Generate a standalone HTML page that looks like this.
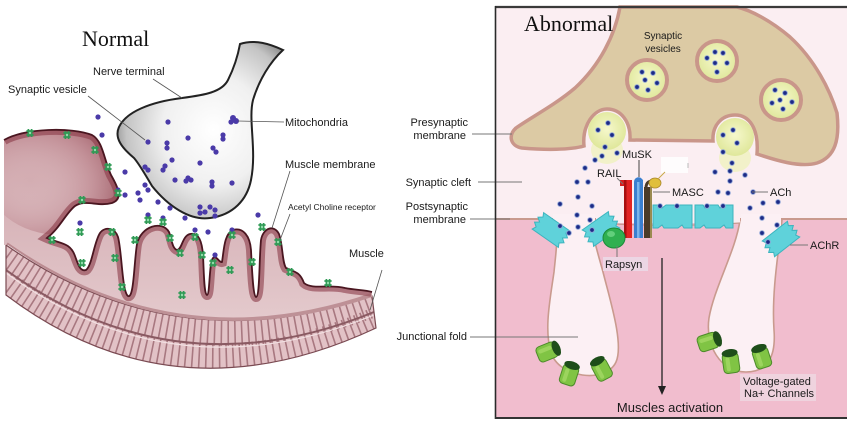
<!DOCTYPE html>
<html><head><meta charset="utf-8"><style>
html,body{margin:0;padding:0;background:#fff;}
svg{display:block;}
text{font-family:"Liberation Sans",Arial,sans-serif;fill:#1a1a1a;}
</style></head><body>
<svg width="850" height="425" viewBox="0 0 850 425" xmlns="http://www.w3.org/2000/svg">
<defs>
<radialGradient id="nt" cx="0.58" cy="0.5" r="0.62">
<stop offset="0" stop-color="#ffffff"/><stop offset="0.5" stop-color="#f0f0f0"/><stop offset="0.85" stop-color="#c4c4c4"/><stop offset="1" stop-color="#8a8a8a"/>
</radialGradient>
<linearGradient id="ts" x1="0" y1="0" x2="0" y2="1">
<stop offset="0" stop-color="#cda2a8"/><stop offset="1" stop-color="#e4cacd"/>
</linearGradient>
<radialGradient id="lump" cx="0.3" cy="0.55" r="0.75">
<stop offset="0" stop-color="#ead6d8" stop-opacity="0"/><stop offset="0.55" stop-color="#b0707a" stop-opacity="0.4"/><stop offset="1" stop-color="#7a2a36" stop-opacity="0.9"/>
</radialGradient>
<radialGradient id="ves" cx="0.5" cy="0.45" r="0.55">
<stop offset="0" stop-color="#f6f8cc"/><stop offset="1" stop-color="#dfe79a"/>
</radialGradient>
<clipPath id="tc"><path d="M4,140 C25,128 72,127 92,135 C103,141 104,160 111,175 C119,189 123,199 112,203 C98,207 85,199 75,206 C66,213 60,228 47,238 C60,244 70,242 75,256 C78,264 80,272 86,270 C92,266 94,242 100,233 C105,226 115,228 118,237 C122,252 122,292 128,296 C134,299 134,262 137,244 C141,226 162,220 169,232 C172,240 172,248 177,250 C182,250 182,236 190,234 C199,232 202,242 203,255 C204,275 204,294 207,295 C210,295 209,262 213,258 C217,255 219,263 222,262 C224,250 224,234 233,230 C243,227 250,236 251,250 C252,270 253,296 256,297 C260,297 259,260 261,240 C263,228 274,224 279,234 C283,245 282,262 286,268 C295,272 300,272 304,283 C312,290 330,284 345,288 C355,290 365,290 372,292 L372,297 Q176,363.5 8,245 L4,245 Z"/></clipPath>
<clipPath id="bc"><path d="M6,245 Q176,363.5 372,296 L376,328 Q174.5,422.5 6,295 Z"/></clipPath>
<g id="r"><path d="M-3.6,-2 h7.2 M-3.6,2 h7.2 M-1.6,-4 v8 M1.6,-4 v8" stroke="#2f9a55" stroke-width="1.7" fill="none"/><circle r="1.2" fill="#8fdca8"/></g>
<g id="ach"><path d="M-16,-10 L16,-10 L14,-6 L18,-3 L14,0 L18,3 L14,6 L16,10 L-16,10 L-14,6 L-18,3 L-14,0 L-18,-3 L-14,-6 Z" fill="#5fd2da" stroke="#3cb4be" stroke-width="1"/></g>
<g id="na"><rect x="-8" y="-10" width="16" height="20" rx="4" fill="#80c444" stroke="#4c8a2a" stroke-width="1"/><rect x="-5" y="-6" width="4" height="14" rx="2" fill="#a8dc6a" opacity="0.7"/><ellipse cx="0" cy="-10" rx="8" ry="4" fill="#1e4e1a"/></g>
</defs>

<!-- ============ LEFT PANEL ============ -->
<text x="82" y="46" style="font-family:'Liberation Serif','Times New Roman',serif;font-size:22px;fill:#111">Normal</text>

<!-- striated band -->
<path d="M6,245 Q176,363.5 372,296 L376,328 Q174.5,422.5 6,295 Z" fill="#e2c2c6"/>
<g clip-path="url(#bc)">
<path d="M6,257 Q176,379.5 374,304" fill="none" stroke="#a87880" stroke-width="26" stroke-dasharray="1.6 5.2"/>
<path d="M6,283 Q176,408.5 376,320" fill="none" stroke="#a87880" stroke-width="26" stroke-dasharray="1.6 5.2" stroke-dashoffset="2"/>
<path d="M6,270 Q176,393 374,312" fill="none" stroke="#8a5a62" stroke-width="2"/>
<path d="M6,273 Q176,396 374,315" fill="none" stroke="#f2e0e2" stroke-width="1.2"/>
</g>
<path d="M6,245 Q176,363.5 372,296 L376,328 Q174.5,422.5 6,295 Z" fill="none" stroke="#7a4a52" stroke-width="1.2"/>

<!-- muscle tissue -->
<path d="M4,140 C25,128 72,127 92,135 C103,141 104,160 111,175 C119,189 123,199 112,203 C98,207 85,199 75,206 C66,213 60,228 47,238 C60,244 70,242 75,256 C78,264 80,272 86,270 C92,266 94,242 100,233 C105,226 115,228 118,237 C122,252 122,292 128,296 C134,299 134,262 137,244 C141,226 162,220 169,232 C172,240 172,248 177,250 C182,250 182,236 190,234 C199,232 202,242 203,255 C204,275 204,294 207,295 C210,295 209,262 213,258 C217,255 219,263 222,262 C224,250 224,234 233,230 C243,227 250,236 251,250 C252,270 253,296 256,297 C260,297 259,260 261,240 C263,228 274,224 279,234 C283,245 282,262 286,268 C295,272 300,272 304,283 C312,290 330,284 345,288 C355,290 365,290 372,292 L372,297 Q176,363.5 8,245 L4,245 Z" fill="url(#ts)"/>
<g clip-path="url(#tc)">
<ellipse cx="60" cy="175" rx="75" ry="60" fill="url(#lump)"/>
<path d="M4,140 C25,128 72,127 92,135 C103,141 104,160 111,175 C119,189 123,199 112,203 C98,207 85,199 75,206 C66,213 60,228 47,238 C60,244 70,242 75,256 C78,264 80,272 86,270 C92,266 94,242 100,233 C105,226 115,228 118,237 C122,252 122,292 128,296 C134,299 134,262 137,244 C141,226 162,220 169,232 C172,240 172,248 177,250 C182,250 182,236 190,234 C199,232 202,242 203,255 C204,275 204,294 207,295 C210,295 209,262 213,258 C217,255 219,263 222,262 C224,250 224,234 233,230 C243,227 250,236 251,250 C252,270 253,296 256,297 C260,297 259,260 261,240 C263,228 274,224 279,234 C283,245 282,262 286,268 C295,272 300,272 304,283 C312,290 330,284 345,288 C355,290 365,290 372,292" fill="none" stroke="#8a3a48" stroke-width="10" opacity="0.6"/>
<path d="M6,245 Q176,363.5 372,296" fill="none" stroke="#9a5a62" stroke-width="6" opacity="0.5"/>
</g>
<path d="M4,140 C25,128 72,127 92,135 C103,141 104,160 111,175 C119,189 123,199 112,203 C98,207 85,199 75,206 C66,213 60,228 47,238 C60,244 70,242 75,256 C78,264 80,272 86,270 C92,266 94,242 100,233 C105,226 115,228 118,237 C122,252 122,292 128,296 C134,299 134,262 137,244 C141,226 162,220 169,232 C172,240 172,248 177,250 C182,250 182,236 190,234 C199,232 202,242 203,255 C204,275 204,294 207,295 C210,295 209,262 213,258 C217,255 219,263 222,262 C224,250 224,234 233,230 C243,227 250,236 251,250 C252,270 253,296 256,297 C260,297 259,260 261,240 C263,228 274,224 279,234 C283,245 282,262 286,268 C295,272 300,272 304,283 C312,290 330,284 345,288 C355,290 365,290 372,292" fill="none" stroke="#4a1620" stroke-width="1.8"/>

<!-- nerve terminal -->
<path d="M240,44 C255,39 270,44 283,50 C270,62 259,80 253,100 C248,120 257,150 251,180 C247,200 233,215 210,218 C190,221 168,206 152,186 C146,176 140,165 134,158 C122,148 114,138 119,127 C126,112 150,102 182,98 C205,95 222,92 228,80 C234,68 238,55 240,44 Z" fill="url(#nt)" stroke="#222" stroke-width="2"/>

<!-- purple vesicles -->
<g fill="#4a3aa8">
<circle cx="168" cy="122" r="2.6"/><circle cx="148" cy="142" r="2.6"/><circle cx="167" cy="143" r="2.6"/><circle cx="167" cy="148" r="2.6"/><circle cx="188" cy="138" r="2.6"/><circle cx="213" cy="148" r="2.6"/><circle cx="216" cy="152" r="2.6"/><circle cx="223" cy="135" r="2.6"/><circle cx="223" cy="139" r="2.6"/><circle cx="233" cy="118" r="3"/><circle cx="236" cy="121" r="3"/><circle cx="231" cy="122" r="2.6"/><circle cx="172" cy="160" r="2.6"/><circle cx="163" cy="170" r="2.6"/><circle cx="165" cy="166" r="2.6"/><circle cx="200" cy="163" r="2.6"/><circle cx="188" cy="178" r="2.6"/><circle cx="191" cy="180" r="2.6"/><circle cx="186" cy="181" r="2.6"/><circle cx="175" cy="180" r="2.6"/><circle cx="212" cy="182" r="2.6"/><circle cx="212" cy="186" r="2.6"/><circle cx="232" cy="183" r="2.6"/><circle cx="145" cy="167" r="2.6"/><circle cx="148" cy="170" r="2.6"/><circle cx="200" cy="207" r="2.6"/><circle cx="210" cy="207" r="2.6"/><circle cx="205" cy="212" r="2.6"/><circle cx="215" cy="210" r="2.6"/>
<circle cx="98" cy="117" r="2.6"/><circle cx="102" cy="135" r="2.6"/><circle cx="125" cy="172" r="2.6"/><circle cx="138" cy="193" r="2.6"/><circle cx="148" cy="190" r="2.6"/><circle cx="145" cy="185" r="2.6"/><circle cx="158" cy="202" r="2.6"/><circle cx="170" cy="208" r="2.6"/><circle cx="80" cy="223" r="2.6"/><circle cx="148" cy="215" r="2.6"/><circle cx="163" cy="218" r="2.6"/><circle cx="185" cy="218" r="2.6"/><circle cx="200" cy="213" r="2.6"/><circle cx="215" cy="216" r="2.6"/><circle cx="208" cy="232" r="2.6"/><circle cx="195" cy="230" r="2.6"/><circle cx="232" cy="230" r="2.6"/><circle cx="215" cy="255" r="2.6"/><circle cx="258" cy="215" r="2.6"/><circle cx="125" cy="195" r="2.6"/><circle cx="140" cy="200" r="2.6"/><circle cx="118" cy="190" r="2.6"/>
</g>

<!-- receptors -->
<use href="#r" x="30" y="133"/><use href="#r" x="67" y="135"/><use href="#r" x="95" y="150"/><use href="#r" x="108" y="167"/><use href="#r" x="118" y="193"/><use href="#r" x="82" y="200"/><use href="#r" x="52" y="240"/><use href="#r" x="80" y="232"/><use href="#r" x="112" y="232"/><use href="#r" x="115" y="258"/><use href="#r" x="82" y="263"/><use href="#r" x="122" y="287"/><use href="#r" x="135" y="240"/><use href="#r" x="148" y="220"/><use href="#r" x="163" y="222"/><use href="#r" x="170" y="238"/><use href="#r" x="180" y="253"/><use href="#r" x="182" y="295"/><use href="#r" x="195" y="237"/><use href="#r" x="202" y="255"/><use href="#r" x="213" y="263"/><use href="#r" x="230" y="270"/><use href="#r" x="232" y="235"/><use href="#r" x="252" y="262"/><use href="#r" x="262" y="227"/><use href="#r" x="278" y="242"/><use href="#r" x="290" y="272"/><use href="#r" x="328" y="283"/>

<!-- left leader lines -->
<g stroke="#555" stroke-width="0.8" fill="none">
<line x1="153" y1="79" x2="182" y2="98"/>
<line x1="88" y1="96" x2="145" y2="140"/>
<line x1="238" y1="121" x2="284" y2="122"/>
<line x1="290" y1="171" x2="272" y2="228"/>
<line x1="290" y1="214" x2="280" y2="240"/>
<line x1="382" y1="270" x2="370" y2="310"/>
</g>
<g style="font-size:11px">
<text x="93" y="75">Nerve terminal</text>
<text x="8" y="93">Synaptic vesicle</text>
<text x="285" y="126">Mitochondria</text>
<text x="285" y="168">Muscle membrane</text>
<text x="349" y="257">Muscle</text>
</g>
<text x="288" y="210" style="font-size:8.5px">Acetyl Choline receptor</text>

<!-- middle labels -->
<g style="font-size:11px" text-anchor="end">
<text x="468" y="126">Presynaptic</text>
<text x="466" y="139">membrane</text>
<text x="471" y="186">Synaptic cleft</text>
<text x="468" y="210">Postsynaptic</text>
<text x="466" y="223">membrane</text>
<text x="467" y="340">Junctional fold</text>
</g>

<!-- ============ RIGHT PANEL ============ -->
<rect x="495" y="7" width="352" height="411" fill="#fbeef2"/>
<rect x="495" y="219" width="352" height="199" fill="#f1bdce"/>
<line x1="495" y1="219" x2="847" y2="219" stroke="#c99a8e" stroke-width="2"/>

<!-- folds -->
<path d="M556,218 C558,240 556,252 554,272 C550,300 544,330 551,352 C558,378 606,384 616,362 C624,344 610,300 603,272 C597,250 592,236 592,218 Z" fill="#fcf0f4" stroke="#c99a8e" stroke-width="1.6"/>
<path d="M740,220 C736,250 714,288 709,318 C705,345 720,372 746,372 C768,372 776,356 774,330 C772,300 776,268 780,238 L782,220 Z" fill="#fcf0f4" stroke="#c99a8e" stroke-width="1.6"/>
<rect x="553" y="214" width="42" height="12" fill="#fcf0f4"/>
<rect x="741" y="214" width="40" height="12" fill="#fcf0f4"/>
<rect x="596" y="214" width="144" height="9" fill="#fbeef2"/>
<path d="M596,223 C640,226 700,226 740,223" fill="none" stroke="#c99a8e" stroke-width="1.2"/>

<!-- presynaptic terminal -->
<path d="M620,7 C615,35 600,65 575,88 C555,105 530,118 516,128 C508,135 510,146 522,148 C545,150 570,150 584,146 C582,125 594,109 607,109 C621,109 631,122 630,140 L713,141 C712,125 722,115 735,115 C749,115 759,128 757,154 C775,160 800,168 817,163 C835,157 840,140 837,113 C830,90 815,60 790,37 C770,20 750,10 737,7 Z" fill="#dccaa4" stroke="#c9968a" stroke-width="3.5"/>
<!-- pocket vesicles -->
<ellipse cx="607" cy="150" rx="16" ry="14" fill="#eef2b8" opacity="0.7"/>
<circle cx="607" cy="131" r="19" fill="url(#ves)"/>
<ellipse cx="735" cy="158" rx="16" ry="14" fill="#eef2b8" opacity="0.7"/>
<circle cx="735" cy="137" r="19" fill="url(#ves)"/>
<!-- vesicles -->
<g stroke="#c9968a" stroke-width="4" fill="url(#ves)">
<circle cx="647" cy="80" r="20"/>
<circle cx="717" cy="61" r="20"/>
<circle cx="781" cy="100" r="20"/>
</g>
<g fill="#1c2a86" stroke="#8ea4d6" stroke-width="0.9">
<circle cx="642" cy="72" r="2.3"/><circle cx="653" cy="73" r="2.3"/><circle cx="645" cy="80" r="2.3"/><circle cx="657" cy="83" r="2.3"/><circle cx="637" cy="87" r="2.3"/><circle cx="648" cy="90" r="2.3"/>
<circle cx="707" cy="58" r="2.3"/><circle cx="715" cy="52" r="2.3"/><circle cx="723" cy="53" r="2.3"/><circle cx="715" cy="63" r="2.3"/><circle cx="727" cy="63" r="2.3"/><circle cx="717" cy="72" r="2.3"/>
<circle cx="775" cy="90" r="2.3"/><circle cx="785" cy="93" r="2.3"/><circle cx="780" cy="100" r="2.3"/><circle cx="772" cy="103" r="2.3"/><circle cx="792" cy="102" r="2.3"/><circle cx="783" cy="109" r="2.3"/>
<circle cx="608" cy="123" r="2.3"/><circle cx="598" cy="130" r="2.3"/><circle cx="612" cy="135" r="2.3"/><circle cx="605" cy="147" r="2.3"/>
<circle cx="733" cy="130" r="2.3"/><circle cx="723" cy="135" r="2.3"/><circle cx="737" cy="143" r="2.3"/><circle cx="723" cy="152" r="2.3"/><circle cx="732" cy="163" r="2.3"/>
<circle cx="602" cy="156" r="2.3"/><circle cx="595" cy="160" r="2.3"/><circle cx="617" cy="153" r="2.3"/><circle cx="585" cy="168" r="2.3"/><circle cx="588" cy="182" r="2.3"/><circle cx="577" cy="182" r="2.3"/><circle cx="578" cy="197" r="2.3"/><circle cx="560" cy="204" r="2.3"/><circle cx="592" cy="206" r="2.3"/><circle cx="577" cy="215" r="2.3"/>
<circle cx="730" cy="171" r="2.3"/><circle cx="715" cy="172" r="2.3"/><circle cx="730" cy="181" r="2.3"/><circle cx="745" cy="175" r="2.3"/><circle cx="718" cy="192" r="2.3"/><circle cx="728" cy="193" r="2.3"/><circle cx="753" cy="192" r="2.3"/><circle cx="750" cy="208" r="2.3"/><circle cx="763" cy="203" r="2.3"/><circle cx="778" cy="202" r="2.3"/><circle cx="762" cy="218" r="2.3"/>
</g>

<!-- AChR -->
<use href="#ach" transform="translate(551,230) rotate(35)"/>
<use href="#ach" transform="translate(601,229) rotate(-35)"/>
<use href="#ach" transform="translate(781,239) rotate(-38)"/>
<g fill="#5fd2da" stroke="#3cb4be" stroke-width="1">
<path d="M653,205 L660,205 L662,208 L666,205 L674,205 L676,208 L680,205 L692,205 L692,228 L684,228 L682,225 L678,228 L664,228 L662,225 L658,228 L653,228 Z"/>
<path d="M695,205 L703,205 L705,208 L709,205 L718,205 L720,208 L724,205 L733,205 L733,228 L726,228 L724,225 L720,228 L706,228 L704,225 L700,228 L695,228 Z"/>
</g>
<g fill="#1c2a86" stroke="#8ea4d6" stroke-width="0.9">
<circle cx="660" cy="206" r="2.3"/><circle cx="677" cy="206" r="2.3"/><circle cx="707" cy="206" r="2.3"/><circle cx="723" cy="206" r="2.3"/>
<circle cx="578" cy="227" r="2.3"/><circle cx="569" cy="233" r="2.3"/><circle cx="560" cy="226" r="2.3"/><circle cx="592" cy="230" r="2.3"/><circle cx="590" cy="220" r="2.3"/>
<circle cx="777" cy="225" r="2.3"/><circle cx="762" cy="233" r="2.3"/><circle cx="768" cy="242" r="2.3"/>
</g>

<!-- RAIL / MuSK / MASC -->
<rect x="620" y="180" width="12" height="6" fill="#d81c1c"/>
<rect x="624" y="180" width="8" height="58" fill="#e22424"/>
<rect x="624" y="180" width="2.5" height="58" fill="#a81010"/>
<path d="M634,238 L634,182 C634,178 638,176 641,178 L643,180 L643,238 Z" fill="#3a7fd0"/>
<rect x="637" y="182" width="2.5" height="56" fill="#7ab4ec"/>
<rect x="644" y="187" width="8" height="51" fill="#4a3a28"/>
<rect x="650" y="187" width="2" height="51" fill="#9a8a50"/>
<path d="M646,188 C646,182 650,180 654,182" fill="none" stroke="#4a3a28" stroke-width="3"/>
<ellipse cx="655" cy="183" rx="6" ry="5" fill="#e0bf3c" stroke="#a8862a" stroke-width="0.8"/>
<rect x="661" y="157" width="27" height="16" fill="#fefcfd"/>
<line x1="688" y1="163" x2="688" y2="168" stroke="#aaa" stroke-width="0.8"/>
<line x1="658" y1="179" x2="665" y2="172" stroke="#c8a848" stroke-width="1"/>
<!-- rapsyn -->
<ellipse cx="614" cy="238" rx="11" ry="10" fill="#2fb050" stroke="#1a8a38" stroke-width="1"/>
<ellipse cx="611" cy="234" rx="4" ry="3" fill="#62cf7c"/>

<!-- Na channels -->
<use href="#na" transform="translate(547,352) rotate(68)"/>
<use href="#na" transform="translate(569,375) rotate(18)"/>
<use href="#na" transform="translate(602,370) rotate(-28)"/>
<use href="#na" transform="translate(708,342) rotate(72)"/>
<use href="#na" transform="translate(731,363) rotate(-8)"/>
<use href="#na" transform="translate(762,358) rotate(-18)"/>

<!-- arrow -->
<line x1="662" y1="258" x2="662" y2="388" stroke="#222" stroke-width="1.3"/>
<polygon points="658,386 666,386 662,395" fill="#222"/>

<!-- leader lines right -->
<g stroke="#777" stroke-width="1" fill="none">
<line x1="472" y1="134" x2="512" y2="134"/>
<line x1="478" y1="182" x2="522" y2="182"/>
<line x1="470" y1="219" x2="510" y2="219"/>
<line x1="470" y1="337" x2="578" y2="337"/>
<line x1="617" y1="178" x2="623" y2="184"/>
<line x1="653" y1="192" x2="670" y2="192"/>
<line x1="752" y1="192" x2="768" y2="192"/>
<line x1="790" y1="245" x2="808" y2="245"/>
<line x1="617" y1="246" x2="617" y2="257"/>
</g>
<line x1="639" y1="160" x2="639" y2="177" stroke="#444" stroke-width="1"/>

<!-- labels -->
<text x="524" y="31" style="font-family:'Liberation Serif','Times New Roman',serif;font-size:22px;fill:#111">Abnormal</text>
<g style="font-size:10px" text-anchor="middle">
<text x="663" y="39">Synaptic</text>
<text x="663" y="52">vesicles</text>
</g>
<g style="font-size:11px">
<text x="622" y="158">MuSK</text>
<text x="597" y="177">RAIL</text>
<text x="672" y="196">MASC</text>
<text x="770" y="196">ACh</text>
<text x="810" y="249">AChR</text>
</g>
<rect x="603" y="257" width="45" height="14" fill="#ecd6e4"/>
<text x="605" y="268" style="font-size:11px">Rapsyn</text>
<rect x="740" y="374" width="76" height="27" fill="#efd3de"/>
<g style="font-size:11px">
<text x="743" y="385">Voltage-gated</text>
<text x="744" y="397">Na+ Channels</text>
</g>
<text x="670" y="412" text-anchor="middle" style="font-size:13px">Muscles activation</text>

<!-- frame -->
<line x1="495" y1="7" x2="847" y2="7" stroke="#3a3a3a" stroke-width="2.2"/>
<line x1="495.5" y1="6" x2="495.5" y2="419" stroke="#2a2a2a" stroke-width="1.6"/>
<line x1="495" y1="418" x2="847" y2="418" stroke="#333" stroke-width="2"/>
</svg>
</body></html>
